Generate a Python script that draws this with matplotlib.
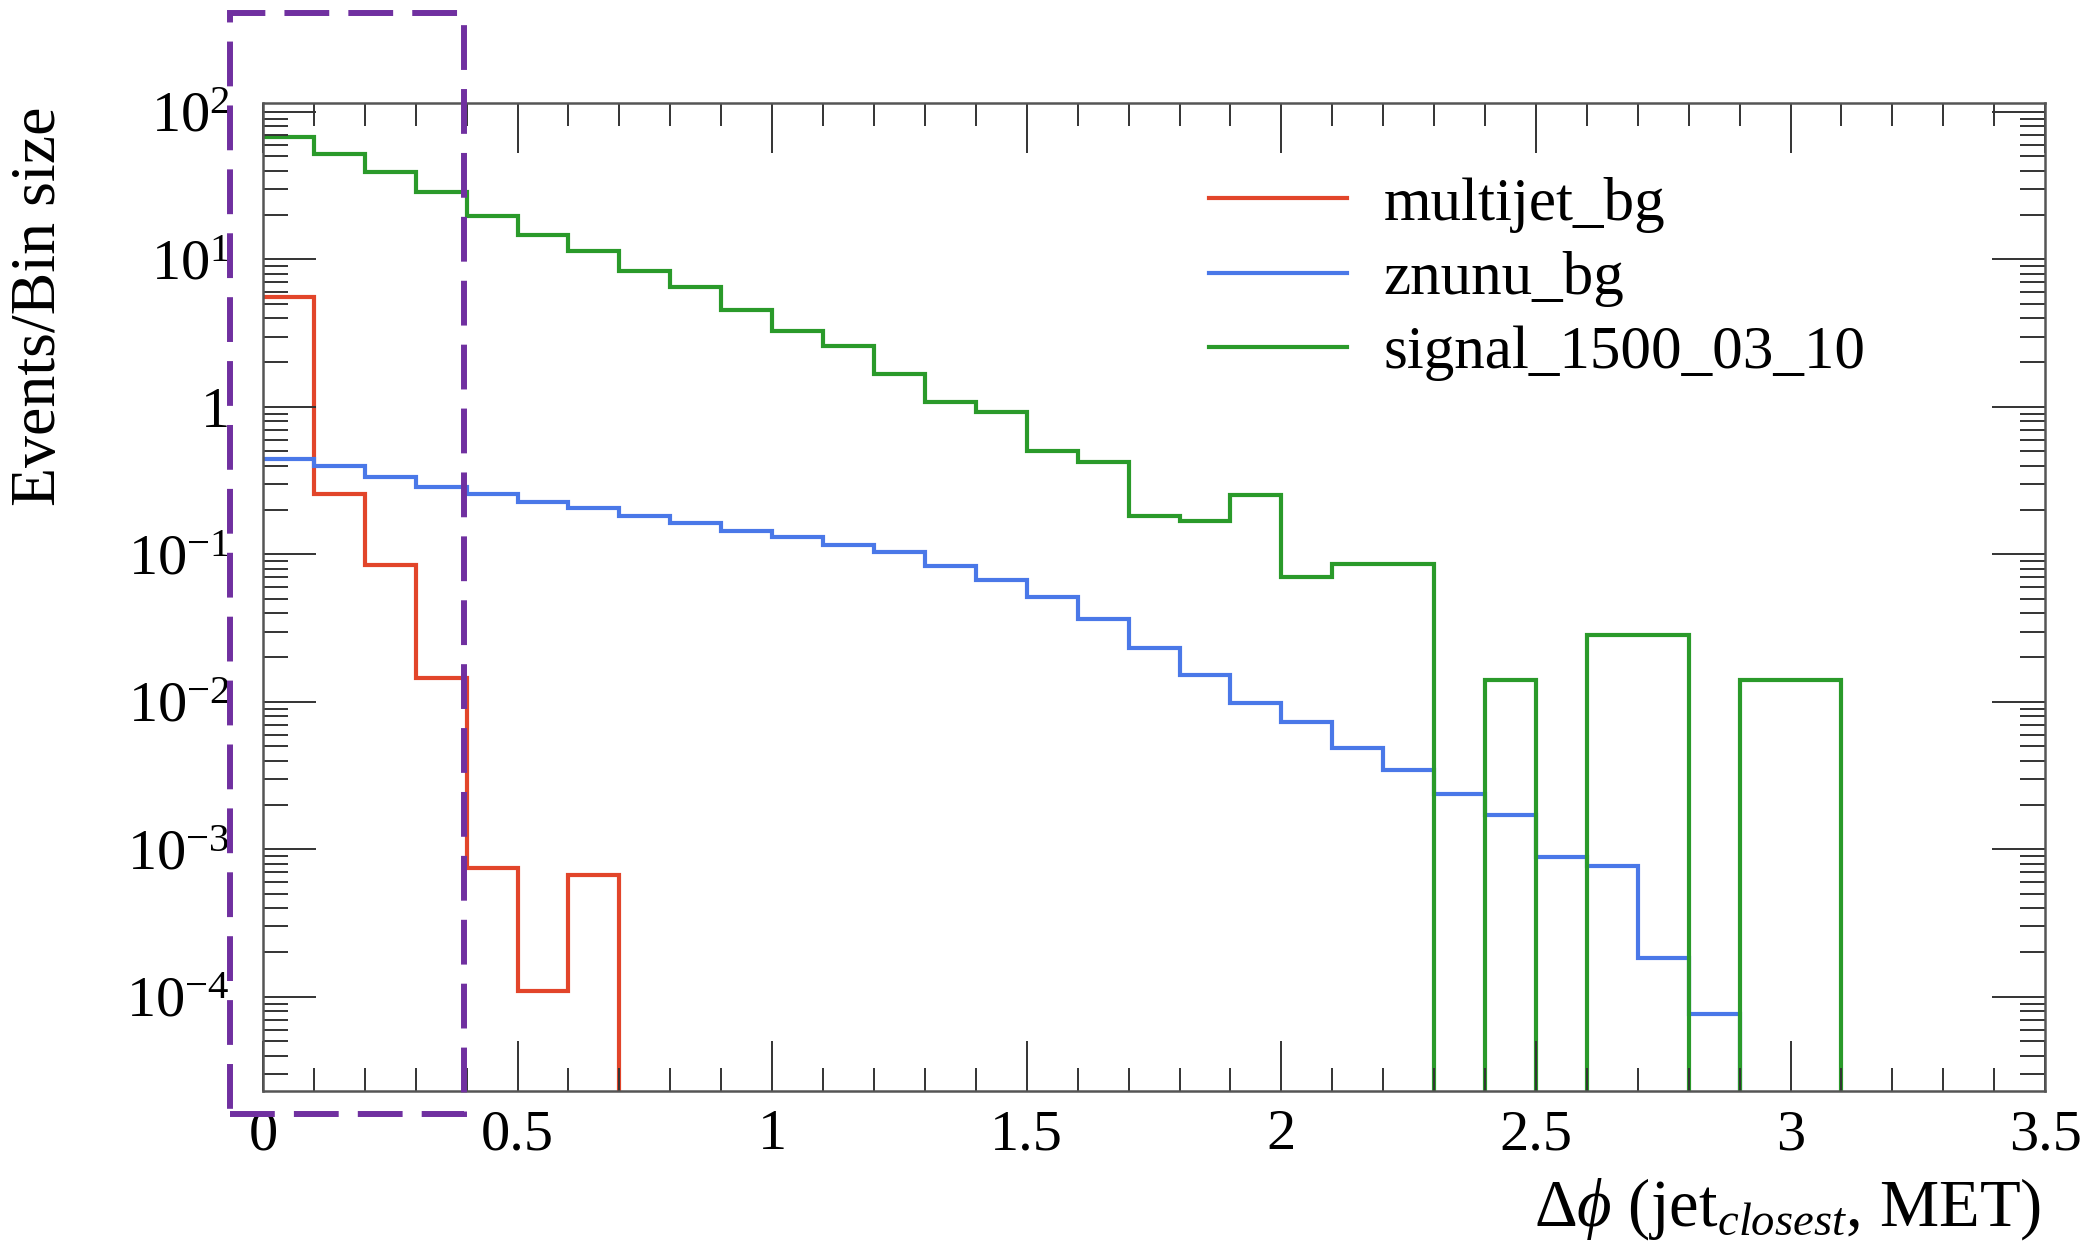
import numpy as np
import matplotlib
matplotlib.use("Agg")
import matplotlib.pyplot as plt
from matplotlib.ticker import LogLocator, FixedLocator, MultipleLocator, FuncFormatter, NullFormatter
from matplotlib.patches import Rectangle

# ---------------- data ----------------
bin_edges = np.round(np.linspace(0.0, 3.5, 36), 2)

multijet_bg = [5.59, 0.255, 0.0845, 0.0145, 0.00075, 0.000109, 0.000665,
               0, 0, 0, 0, 0, 0, 0, 0, 0, 0, 0, 0, 0, 0, 0, 0, 0, 0, 0, 0, 0,
               0, 0, 0, 0, 0, 0, 0]

znunu_bg = [0.443, 0.397, 0.337, 0.288, 0.257, 0.226, 0.206, 0.183, 0.163,
            0.144, 0.131, 0.115, 0.103, 0.0836, 0.0671, 0.0518, 0.0364,
            0.0233, 0.0153, 0.0098, 0.0073, 0.0049, 0.00343, 0.00237,
            0.00172, 0.000894, 0.000768, 0.000183, 0.000077,
            0, 0, 0, 0, 0, 0]

signal_1500_03_10 = [67.8, 51.5, 38.9, 28.8, 19.8, 14.7, 11.4, 8.34, 6.45,
                     4.54, 3.27, 2.60, 1.67, 1.08, 0.922, 0.505, 0.421,
                     0.182, 0.169, 0.252, 0.0705, 0.0859, 0.0859,
                     0, 0.0141, 0, 0.0282, 0.0282, 0, 0.0141, 0.0141,
                     0, 0, 0, 0]

series_labels = ["multijet_bg", "znunu_bg", "signal_1500_03_10"]
series_colors = ["#e2452a", "#4a78e8", "#2a9a2a"]

x_tick_values = [0, 0.5, 1, 1.5, 2, 2.5, 3, 3.5]
x_tick_labels = ["0", "0.5", "1", "1.5", "2", "2.5", "3", "3.5"]

x_label = r"$\Delta\phi$ (jet$_{closest}$, MET)"
y_label = "Events/Bin size"

# ---------------- style ----------------
plt.rcParams["font.family"] = ["Liberation Serif", "DejaVu Serif"]
plt.rcParams["mathtext.fontset"] = "custom"
plt.rcParams["mathtext.rm"] = "Liberation Serif"
plt.rcParams["mathtext.it"] = "Liberation Serif:italic"
plt.rcParams["mathtext.bf"] = "Liberation Serif:bold"

fig = plt.figure(figsize=(20.92, 12.45), dpi=100)
ax = fig.add_axes([0.1257, 0.1237, 0.8519, 0.7936])

for vals, col, lab in zip([multijet_bg, znunu_bg, signal_1500_03_10],
                          series_colors, series_labels):
    v = np.asarray(vals, dtype=float)
    ax.stairs(v, bin_edges, color=col, lw=3.0, label=lab, baseline=None)

ax.set_yscale("log")
ax.set_xlim(0, 3.5)
ax.set_ylim(2.3e-5, 115)

ax.xaxis.set_major_locator(FixedLocator(x_tick_values))
ax.set_xticklabels(x_tick_labels)
ax.xaxis.set_minor_locator(MultipleLocator(0.1))

def yfmt(v, pos):
    e = int(round(np.log10(v)))
    if e == 0:
        return "1"
    return r"$10^{%d}$" % e

ax.yaxis.set_major_locator(LogLocator(base=10, numticks=30))
ax.yaxis.set_minor_locator(LogLocator(base=10, subs=np.arange(2, 10) * 1.0, numticks=200))
ax.yaxis.set_major_formatter(FuncFormatter(yfmt))
ax.yaxis.set_minor_formatter(NullFormatter())

ax.tick_params(which="both", direction="in", top=True, right=True,
               color="#333333", width=1.4)
ax.tick_params(axis="x", which="major", length=36, pad=13, labelsize=42)
ax.tick_params(axis="x", which="minor", length=16.5)
ax.tick_params(axis="y", which="major", length=38, pad=24, labelsize=42)
ax.tick_params(axis="y", which="minor", length=18)

for s in ax.spines.values():
    s.set_color("#555555")
    s.set_linewidth(1.8)

fig.text(40 / 2092, 1 - 107 / 1245, y_label, rotation=90, ha="center",
         va="top", fontsize=46)
fig.text(2041 / 2092, 1 - 1226 / 1245, x_label, ha="right", va="baseline",
         fontsize=48)

ax.legend(loc="upper left", bbox_to_anchor=(0.578, 0.858),
          bbox_transform=fig.transFigure, frameon=False, fontsize=44,
          handlelength=2.25, handletextpad=0.6, labelspacing=0.3,
          borderpad=0, borderaxespad=0)

fig.add_artist(Rectangle((0.110, 0.1052), 0.1118, 0.884,
                         transform=fig.transFigure, fill=False,
                         edgecolor="#7030A0", lw=4.3,
                         linestyle=(0, (7.5, 3.2)), zorder=10))

fig.savefig("out.png", dpi=100)
